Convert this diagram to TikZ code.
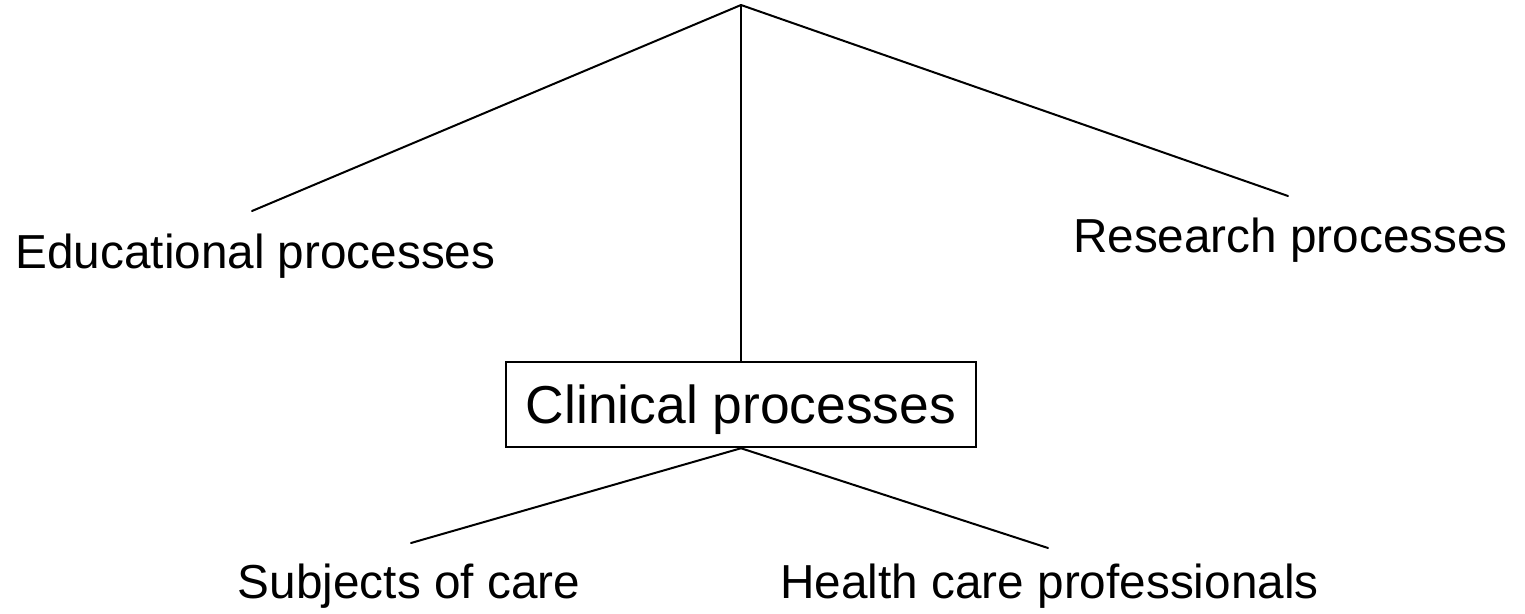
\documentclass[tikz,border=0pt]{standalone}
\usepackage{fontspec}
\setmainfont{Liberation Sans}
\begin{document}
\begin{tikzpicture}[x=1pt,y=-1pt,
  conn/.style={line width=2pt, line cap=round},
  lbl/.style={font=\fontsize{47.7}{57}\selectfont, inner sep=0pt, anchor=base},
  procbox/.style={draw, line width=2.5pt, minimum width=470pt, minimum height=85pt,
    inner sep=0pt, text depth=0pt, font=\fontsize{53.4}{64}\selectfont}]
\useasboundingbox (0,0) rectangle (1525,613);
\coordinate (top) at (741,5);
\node[procbox] (clin) at (741,404.5) {Clinical processes};
\node[lbl] (edu) at (255.5,268) {Educational processes};
\node[lbl] (res) at (1290.5,252) {Research processes};
\node[lbl] (subj) at (409,598) {Subjects of care};
\node[lbl] (hcp) at (1049.5,598) {Health care professionals};
\coordinate (eduend) at (252,211);
\coordinate (resend) at (1288,196);
\coordinate (subjend) at (411,543);
\coordinate (hcpend) at (1048,548);
\draw[conn] (top) -- (eduend);
\draw[conn] (top) -- (resend);
\draw[conn] (top) -- (clin.north);
\draw[conn] (clin.south) -- (subjend);
\draw[conn] (clin.south) -- (hcpend);
\end{tikzpicture}
\end{document}
